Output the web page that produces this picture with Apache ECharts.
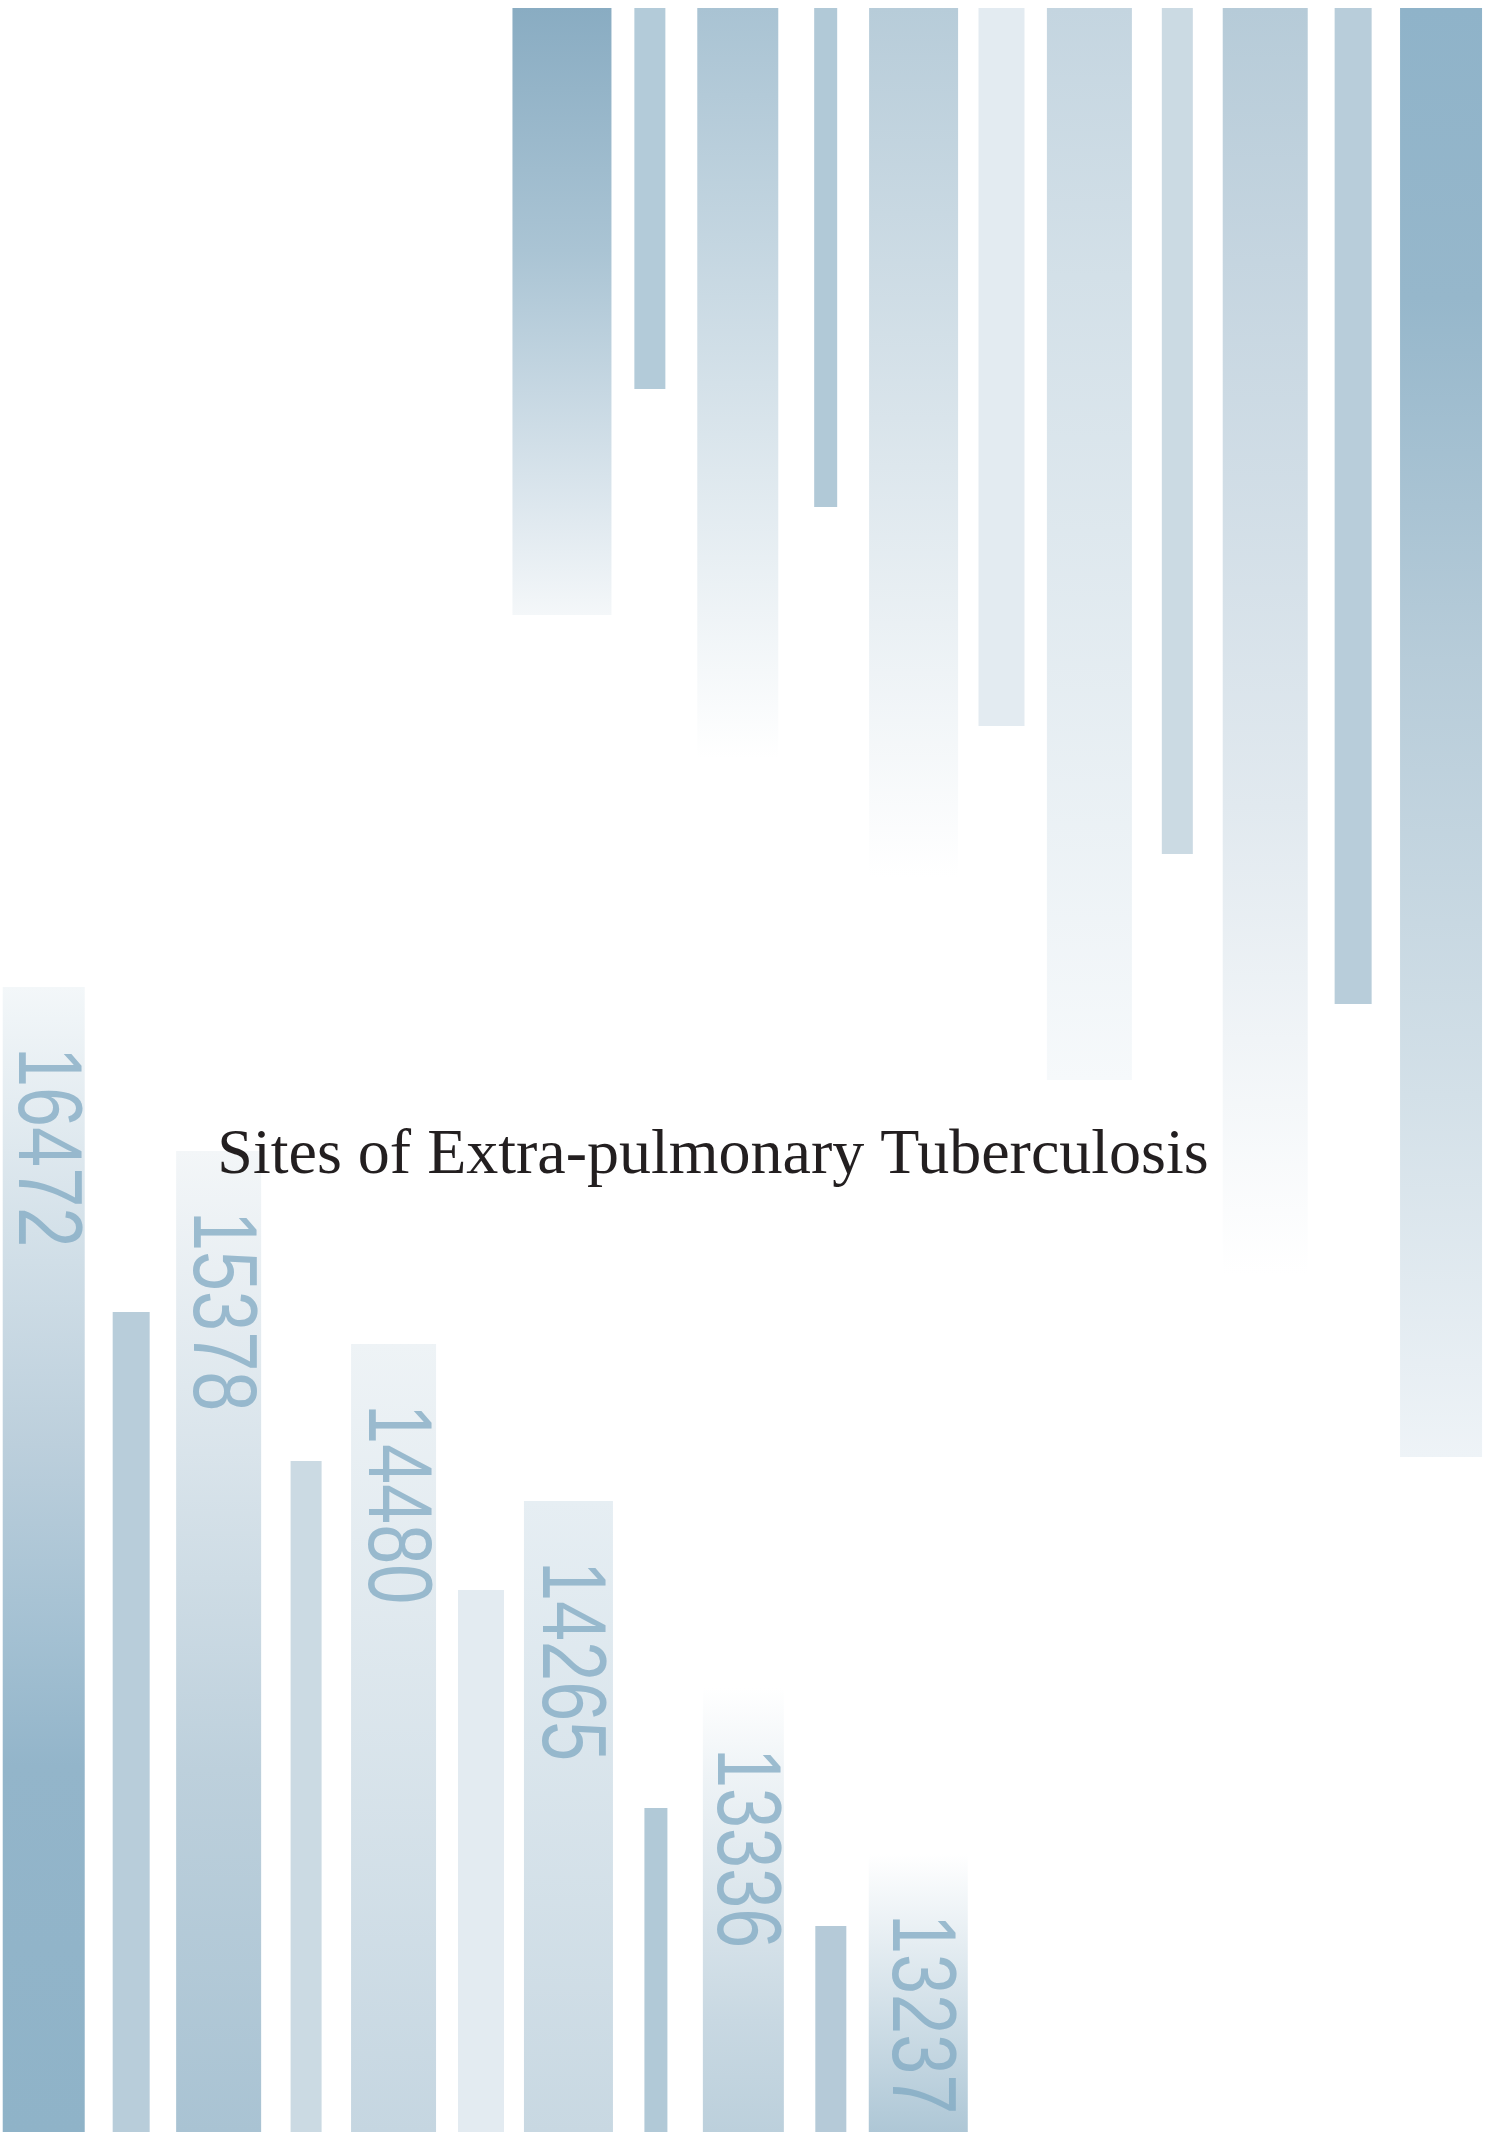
<!DOCTYPE html>
<html lang="en">

<head>
  <meta charset="UTF-8">
  <title>Sites of Extra-pulmonary Tuberculosis</title>
  <style>
    * {
      margin: 0;
      padding: 0;
    }

    #main {
      width: 1489px;
      height: 2132px;
      background: #fff;
    }
  </style>
</head>

<body>
  <div id="main"></div>
  <script src="https://cdn.jsdelivr.net/npm/echarts@6/dist/echarts.min.js"></script>
  <script>
    // numbers printed on the wide bars of the lower row
    const values = [16472, 15378, 14480, 14265, 13336, 13237]
    // bar lengths, lower row grows up from the bottom, upper row hangs from the top
    const lowWide = [1145, 981, 788, 631, 444, 278]
    const lowThin = [820, 671, 542, 324, 206]
    const highWide = [1449, 1266, 1072, 869, 751, 607]
    const highThin = [996, 846, 718, 499, 381]
    // 11 slots: wide, thin, wide, thin ...
    const slots = ['A', 'a', 'B', 'b', 'C', 'c', 'D', 'd', 'E', 'e', 'F']

    // styling
    const barWidths = [82, 37, 85, 31, 85, 46, 89, 23, 81, 31, 99]
    // gradient stops go from the base of the bar to its tip
    const lowFills = [
      [[0, '#8fb3c8'], [0.32, '#93b5ca'], [0.43, '#a3c0d2'], [0.6, '#bccfdc'], [0.76, '#d0dee7'], [1, '#f3f7f9']],
      '#b8cdda',
      [[0, '#a9c3d3'], [0.37, '#bdd0dc'], [0.76, '#dfe8ee'], [1, '#f3f6f8']],
      '#cbdae3',
      [[0, '#c5d6e1'], [1, '#eef3f6']],
      '#e3ebf1',
      [[0, '#c8d8e2'], [1, '#e6eef3']],
      '#b1c9d7',
      [[0, '#bcd0dc'], [0.25, '#c8d8e2'], [0.8, '#eef3f6'], [1, '#ffffff']],
      '#b5cad8',
      [[0, '#aec7d6'], [1, '#ffffff']]
    ]
    const highFills = [
      [[0, '#8fb3c9'], [0.2, '#96b7cb'], [0.45, '#b7ccd9'], [0.75, '#d3e0e8'], [1, '#eef3f7']],
      '#b8cdda',
      [[0, '#b6cbd8'], [0.2, '#c5d5e0'], [0.63, '#e1e9ef'], [1, '#ffffff']],
      '#cbdae3',
      [[0, '#c4d5e0'], [0.25, '#d3e0e8'], [1, '#f6f9fb']],
      '#e3ebf1',
      [[0, '#b7ccd9'], [1, '#ffffff']],
      '#b1c9d7',
      [[0, '#a9c3d3'], [1, '#ffffff']],
      '#b3cbd9',
      [[0, '#89acc2'], [0.4, '#aac4d4'], [0.82, '#dde7ee'], [1, '#f4f7f9']]
    ]

    function interleave(wide, thin) {
      let out = []
      for (let i = 0; i < slots.length; i++) {
        let v = i % 2 === 0 ? wide[i / 2] : thin[(i - 1) / 2]
        out.push([i, v])
      }
      return out
    }

    function makeFill(f, up) {
      if (typeof f === 'string') return f
      return new echarts.graphic.LinearGradient(0, up ? 1 : 0, 0, up ? 0 : 1,
        f.map(s => ({ offset: s[0], color: s[1] })))
    }

    function barRender(fills, up) {
      return function (params, api) {
        const i = api.value(0)
        const a = api.coord([i, 0])
        const b = api.coord([i, api.value(1)])
        const w = barWidths[i]
        return {
          type: 'rect',
          shape: {
            x: a[0] - w / 2,
            y: Math.min(a[1], b[1]),
            width: w,
            height: Math.abs(b[1] - a[1])
          },
          style: { fill: makeFill(fills[i], up) }
        }
      }
    }

    const chart = echarts.init(document.getElementById('main'))

    const option = {
      animation: false,
      backgroundColor: '#fff',
      grid: [
        { left: -5, width: 967, top: 8, bottom: 0 },
        { left: 518, width: 967, top: 8, bottom: 0 }
      ],
      xAxis: [
        { type: 'category', data: slots, gridIndex: 0, show: false },
        { type: 'category', data: slots, gridIndex: 1, show: false, inverse: true }
      ],
      yAxis: [
        { type: 'value', min: 0, max: 2124, gridIndex: 0, show: false },
        { type: 'value', min: 0, max: 2124, gridIndex: 1, show: false, inverse: true }
      ],
      graphic: [
        {
          type: 'text',
          x: 713,
          y: 1156,
          z: 100,
          style: {
            text: 'Sites of Extra-pulmonary Tuberculosis',
            fontSize: 64,
            fontFamily: '"Liberation Serif", "Times New Roman", serif',
            fill: '#231f20',
            align: 'center',
            verticalAlign: 'middle'
          }
        }
      ],
      series: [
        {
          name: 'lower',
          type: 'custom',
          xAxisIndex: 0,
          yAxisIndex: 0,
          data: interleave(lowWide, lowThin),
          renderItem: barRender(lowFills, true)
        },
        {
          name: 'upper',
          type: 'custom',
          xAxisIndex: 1,
          yAxisIndex: 1,
          data: interleave(highWide, highThin),
          renderItem: barRender(highFills, false)
        },
        {
          name: 'values',
          type: 'custom',
          xAxisIndex: 0,
          yAxisIndex: 0,
          z: 5,
          data: values.map((v, k) => [2 * k, lowWide[k], v]),
          renderItem(params, api) {
            const top = api.coord([api.value(0), api.value(1)])
            return {
              type: 'text',
              x: top[0],
              y: top[1] + 60,
              rotation: -Math.PI / 2, // reads top to bottom
              scaleX: 1,
              scaleY: 1.26,
              style: {
                text: String(api.value(2)),
                fontSize: 72,
                fontFamily: '"Liberation Sans", Arial, sans-serif',
                fill: 'rgba(127,168,194,0.75)',
                align: 'left',
                verticalAlign: 'middle'
              }
            }
          }
        }
      ]
    }

    chart.setOption(option)
  </script>
</body>

</html>
